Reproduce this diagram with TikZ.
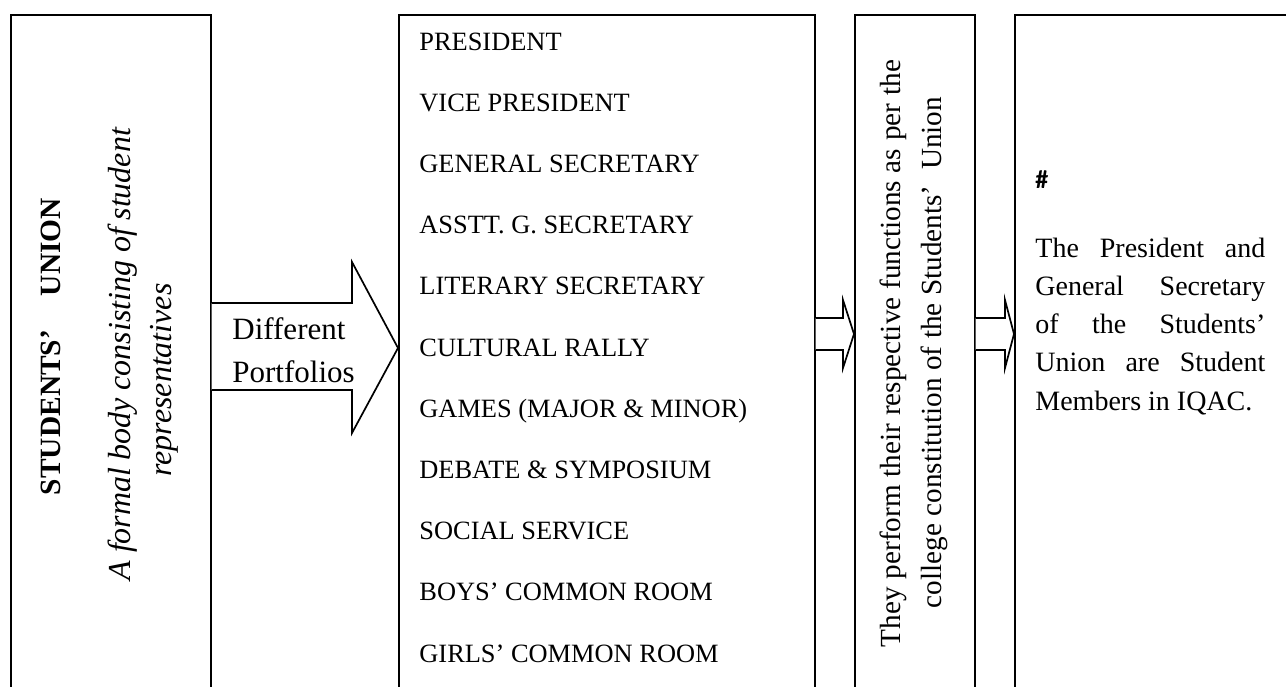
\documentclass[tikz,border=0pt]{standalone}
\usepackage{fontspec}
\setmainfont{Liberation Serif}
\newfontfamily\hashfont{Carlito}
\begin{document}
\begin{tikzpicture}[x=0.5pt,y=-0.5pt,
  box/.style={draw, line width=0.85pt, anchor=north west, inner sep=0pt, minimum height=360pt},
  item/.style={anchor=base west, inner sep=0pt, font=\fontsize{13.2pt}{15pt}\selectfont},
  vtext/.style={rotate=90, anchor=base, inner sep=0pt},
  para/.style={anchor=base west, inner sep=0pt, font=\fontsize{14pt}{17pt}\selectfont},
  blockarrow/.style={draw, line width=0.85pt, fill=white, line join=miter}
]
\useasboundingbox (0,0) rectangle (1286,686);
\clip (0,0) rectangle (1286,686);

% boxes
\node[box, minimum width=100pt] (b1) at (10,14) {};
\node[box, minimum width=208pt] (b2) at (398,14) {};
\node[box, minimum width=60pt] (b3) at (854,14) {};
\node[box, minimum width=200pt] (b4) at (1014,14) {};

% block arrows
\draw[blockarrow] (b1.east |- 0,303) -- (352,303) -- (352,262) -- (b2.west |- 0,348)
  -- (352,433) -- (352,390) -- (b1.east |- 0,390);
\draw[blockarrow] (b2.east |- 0,318) -- (843,318) -- (843,300) -- (b3.west |- 0,334)
  -- (843,368) -- (843,350) -- (b2.east |- 0,350);
\draw[blockarrow] (b3.east |- 0,318) -- (1005,318) -- (1005,300) -- (b4.west |- 0,334)
  -- (1005,368) -- (1005,350) -- (b3.east |- 0,350);

% box 1 text
\node[vtext, font=\fontsize{14.7pt}{17pt}\selectfont\bfseries] (t1a) at (61,346.5)
  {\makebox[148.5pt][s]{STUDENTS’ UNION}};
\node[vtext, font=\fontsize{16pt}{19pt}\selectfont\itshape] (t1b) at (130,354)
  {\makebox[226pt][s]{A formal body consisting of student}};
\node[vtext, font=\fontsize{16pt}{19pt}\selectfont\itshape] (t1c) at (171,380)
  {representatives};

% arrow label
\node[anchor=base west, inner sep=0pt, font=\fontsize{15.5pt}{18pt}\selectfont] (d1) at (232,339) {Different};
\node[anchor=base west, inner sep=0pt, font=\fontsize{15.5pt}{18pt}\selectfont] (d2) at (232,382) {Portfolios};

% box 2 list
\node[item] (l1) at (419,50) {PRESIDENT};
\node[item] (l2) at (419,111.2) {VICE PRESIDENT};
\node[item] (l3) at (419,172.4) {GENERAL SECRETARY};
\node[item] (l4) at (419,233.6) {ASSTT. G. SECRETARY};
\node[item] (l5) at (419,294.8) {LITERARY SECRETARY};
\node[item] (l6) at (419,356) {CULTURAL RALLY};
\node[item] (l7) at (419,417.2) {GAMES (MAJOR \& MINOR)};
\node[item] (l8) at (419,478.4) {DEBATE \& SYMPOSIUM};
\node[item] (l9) at (419,539.6) {SOCIAL SERVICE};
\node[item] (l10) at (419,600.8) {BOYS’ COMMON ROOM};
\node[item] (l11) at (419,662) {GIRLS’ COMMON ROOM};

% box 3 text
\node[vtext, font=\fontsize{14.6pt}{17pt}\selectfont] (t3a) at (900,353.5)
  {\makebox[293.5pt][s]{They perform their respective functions as per the}};
\node[vtext, font=\fontsize{14.6pt}{17pt}\selectfont] (t3b) at (941,352.5)
  {\makebox[255.5pt][s]{college constitution of the Students’\hspace{4pt} Union}};

% box 4 text
\node[anchor=base west, inner sep=0pt, font=\fontsize{13pt}{15pt}\selectfont\hashfont\bfseries] (hash) at (1035,188) {\#};
\node[para] (p1) at (1035,257) {\makebox[115pt][s]{The President and}};
\node[para] (p2) at (1035,295.3) {\makebox[115pt][s]{General Secretary}};
\node[para] (p3) at (1035,333.6) {\makebox[115pt][s]{of the Students’}};
\node[para] (p4) at (1035,371.9) {\makebox[115pt][s]{Union are Student}};
\node[para] (p5) at (1035,410.2) {Members in IQAC.};
\end{tikzpicture}
\end{document}
